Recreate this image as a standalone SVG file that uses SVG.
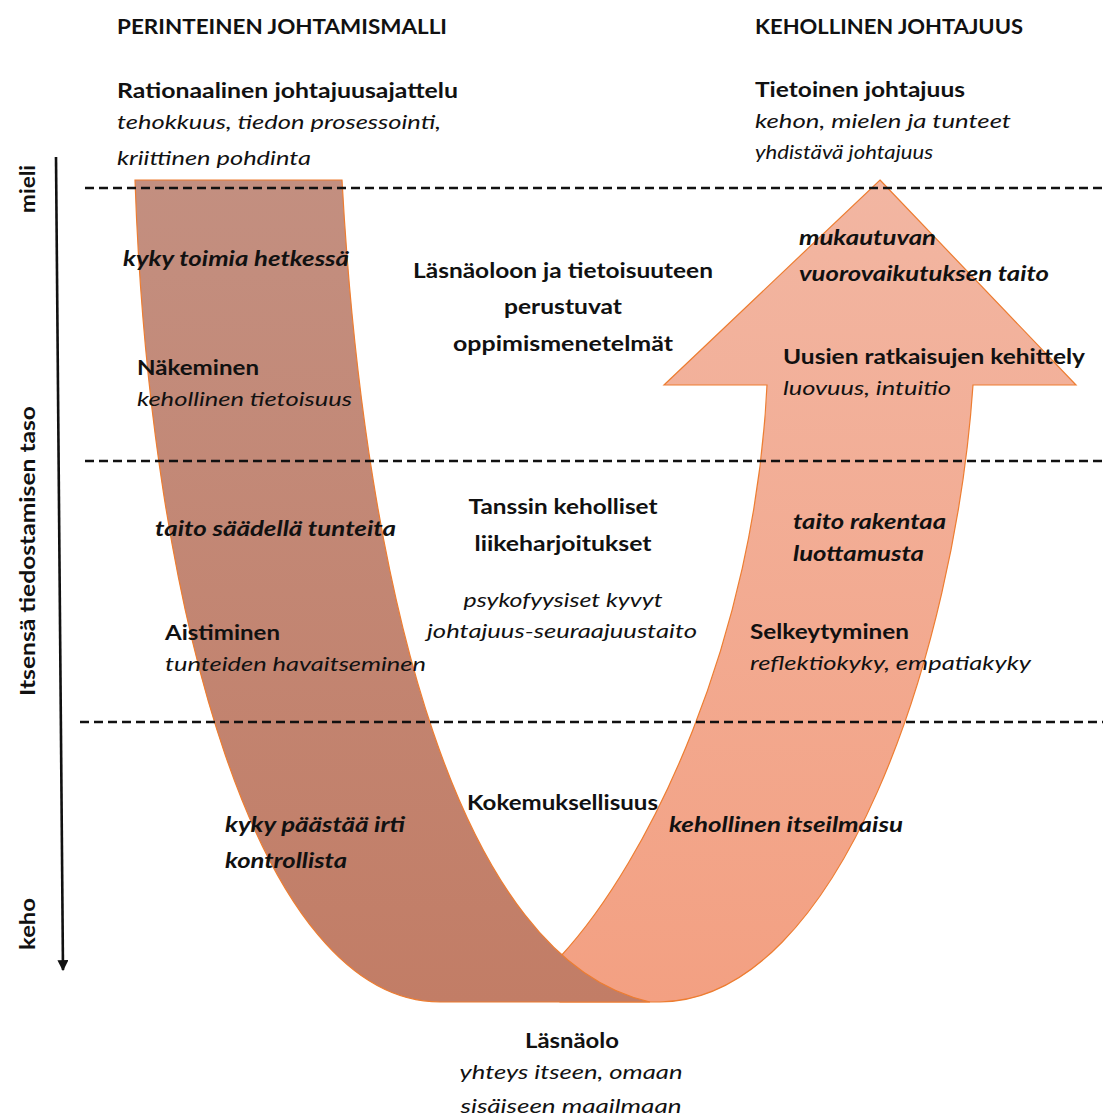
<svg xmlns="http://www.w3.org/2000/svg" width="1103" height="1117" viewBox="0 0 1103 1117">
<style>
text{font-family:Lato,"Open Sans","Liberation Sans",sans-serif;font-size:20px;fill:#111}
.b{font-weight:bold}
.i{font-style:italic}
.bi{font-weight:bold;font-style:italic}
.m{text-anchor:middle}
.dash{stroke:#111;stroke-width:2.4;stroke-dasharray:9 5;fill:none}
.shape{stroke:#ED7D31;stroke-width:1.2}
</style>
<defs>
<linearGradient id="gb" x1="0" y1="0" x2="0" y2="1">
<stop offset="0" stop-color="#C38F80"/>
<stop offset="1" stop-color="#C27D66"/>
</linearGradient>
<linearGradient id="go" x1="0" y1="0" x2="0" y2="1">
<stop offset="0" stop-color="#F2B6A2"/>
<stop offset="1" stop-color="#F3A082"/>
</linearGradient>
<marker id="ah" viewBox="0 0 10 10" refX="9" refY="5" markerWidth="11" markerHeight="11" markerUnits="userSpaceOnUse" orient="auto">
<path d="M0,0 L10,5 L0,10 Z" fill="#111"/>
</marker>
</defs>
<g id="orange-arrow">
<path class="shape" fill="url(#go)" d="M880,180 L1076,385 L973,385 C955,650 840,1000 660,1002 L560,1002 C560,985 558,965 560,957 C650,860 755,640 767,385 L664,385 Z"/>
</g>
<g id="brown-band">
<path class="shape" fill="url(#gb)" d="M135,180 L342,180 C365,600 460,960 650,1002 L440,1002 C260,1002 150,620 135,180 Z"/>
</g>
<g id="connectors">
<line class="dash" x1="85" y1="188" x2="1103" y2="188"/>
<line class="dash" x1="85" y1="461" x2="1103" y2="461"/>
<line class="dash" x1="80" y1="722" x2="1103" y2="722"/>
<line x1="56" y1="157" x2="63" y2="970" stroke="#111" stroke-width="2.6" marker-end="url(#ah)"/>
</g>
<g id="axis-labels">
<text class="b m" transform="translate(35,189) rotate(-90)" textLength="48" lengthAdjust="spacingAndGlyphs">mieli</text>
<text class="b m" transform="translate(35,551) rotate(-90)" textLength="290" lengthAdjust="spacingAndGlyphs">Itsensä tiedostamisen taso</text>
<text class="b m" transform="translate(35,924) rotate(-90)" textLength="52" lengthAdjust="spacingAndGlyphs">keho</text>
</g>
<g id="header-left">
<text class="b" x="117" y="34" textLength="330" lengthAdjust="spacingAndGlyphs">PERINTEINEN JOHTAMISMALLI</text>
</g>
<g id="header-right">
<text class="b" x="755" y="34" textLength="268" lengthAdjust="spacingAndGlyphs">KEHOLLINEN JOHTAJUUS</text>
</g>
<g id="rationaalinen">
<text class="b" x="117" y="98" textLength="341" lengthAdjust="spacingAndGlyphs">Rationaalinen johtajuusajattelu</text>
<text class="i" x="117" y="129" textLength="324" lengthAdjust="spacingAndGlyphs">tehokkuus, tiedon prosessointi,</text>
<text class="i" x="117" y="165" textLength="194" lengthAdjust="spacingAndGlyphs">kriittinen pohdinta</text>
</g>
<g id="tietoinen">
<text class="b" x="755" y="97" textLength="210" lengthAdjust="spacingAndGlyphs">Tietoinen johtajuus</text>
<text class="i" x="755" y="128" textLength="256" lengthAdjust="spacingAndGlyphs">kehon, mielen ja tunteet</text>
<text class="i" x="755" y="159" textLength="178" lengthAdjust="spacingAndGlyphs">yhdistävä johtajuus</text>
</g>
<g id="kyky-toimia">
<text class="bi" x="123" y="266" textLength="226" lengthAdjust="spacingAndGlyphs">kyky toimia hetkessä</text>
</g>
<g id="nakeminen">
<text class="b" x="137" y="375" textLength="122" lengthAdjust="spacingAndGlyphs">Näkeminen</text>
<text class="i" x="137" y="406" textLength="215" lengthAdjust="spacingAndGlyphs">kehollinen tietoisuus</text>
</g>
<g id="lasnaoloon">
<text class="b m" x="563" y="278" textLength="300" lengthAdjust="spacingAndGlyphs">Läsnäoloon ja tietoisuuteen</text>
<text class="b m" x="563" y="314" textLength="118" lengthAdjust="spacingAndGlyphs">perustuvat</text>
<text class="b m" x="563" y="351" textLength="220" lengthAdjust="spacingAndGlyphs">oppimismenetelmät</text>
</g>
<g id="mukautuvan">
<text class="bi" x="799" y="245" textLength="137" lengthAdjust="spacingAndGlyphs">mukautuvan</text>
<text class="bi" x="799" y="281" textLength="250" lengthAdjust="spacingAndGlyphs">vuorovaikutuksen taito</text>
</g>
<g id="uusien">
<text class="b" x="783" y="364" textLength="302" lengthAdjust="spacingAndGlyphs">Uusien ratkaisujen kehittely</text>
<text class="i" x="783" y="395" textLength="168" lengthAdjust="spacingAndGlyphs">luovuus, intuitio</text>
</g>
<g id="taito-saadella">
<text class="bi" x="155" y="536" textLength="241" lengthAdjust="spacingAndGlyphs">taito säädellä tunteita</text>
</g>
<g id="tanssin">
<text class="b m" x="563" y="514" textLength="189" lengthAdjust="spacingAndGlyphs">Tanssin keholliset</text>
<text class="b m" x="563" y="551" textLength="177" lengthAdjust="spacingAndGlyphs">liikeharjoitukset</text>
<text class="i m" x="563" y="607" textLength="199" lengthAdjust="spacingAndGlyphs">psykofyysiset kyvyt</text>
<text class="i m" x="562" y="638" textLength="270" lengthAdjust="spacingAndGlyphs">johtajuus-seuraajuustaito</text>
</g>
<g id="taito-rakentaa">
<text class="bi" x="793" y="529" textLength="153" lengthAdjust="spacingAndGlyphs">taito rakentaa</text>
<text class="bi" x="793" y="561" textLength="131" lengthAdjust="spacingAndGlyphs">luottamusta</text>
</g>
<g id="aistiminen">
<text class="b" x="165" y="640" textLength="115" lengthAdjust="spacingAndGlyphs">Aistiminen</text>
<text class="i" x="165" y="671" textLength="261" lengthAdjust="spacingAndGlyphs">tunteiden havaitseminen</text>
</g>
<g id="selkeytyminen">
<text class="b" x="750" y="639" textLength="159" lengthAdjust="spacingAndGlyphs">Selkeytyminen</text>
<text class="i" x="750" y="670" textLength="281" lengthAdjust="spacingAndGlyphs">reflektiokyky, empatiakyky</text>
</g>
<g id="kokemuksellisuus">
<text class="b" x="467" y="810" textLength="191" lengthAdjust="spacingAndGlyphs">Kokemuksellisuus</text>
</g>
<g id="kyky-paastaa">
<text class="bi" x="225" y="832" textLength="180" lengthAdjust="spacingAndGlyphs">kyky päästää irti</text>
<text class="bi" x="225" y="868" textLength="122" lengthAdjust="spacingAndGlyphs">kontrollista</text>
</g>
<g id="kehollinen-itseilmaisu">
<text class="bi" x="669" y="832" textLength="234" lengthAdjust="spacingAndGlyphs">kehollinen itseilmaisu</text>
</g>
<g id="lasnaolo">
<text class="b m" x="572" y="1048" textLength="94" lengthAdjust="spacingAndGlyphs">Läsnäolo</text>
<text class="i m" x="571" y="1079" textLength="223" lengthAdjust="spacingAndGlyphs">yhteys itseen, omaan</text>
<text class="i m" x="571" y="1113" textLength="221" lengthAdjust="spacingAndGlyphs">sisäiseen maailmaan</text>
</g>
</svg>
